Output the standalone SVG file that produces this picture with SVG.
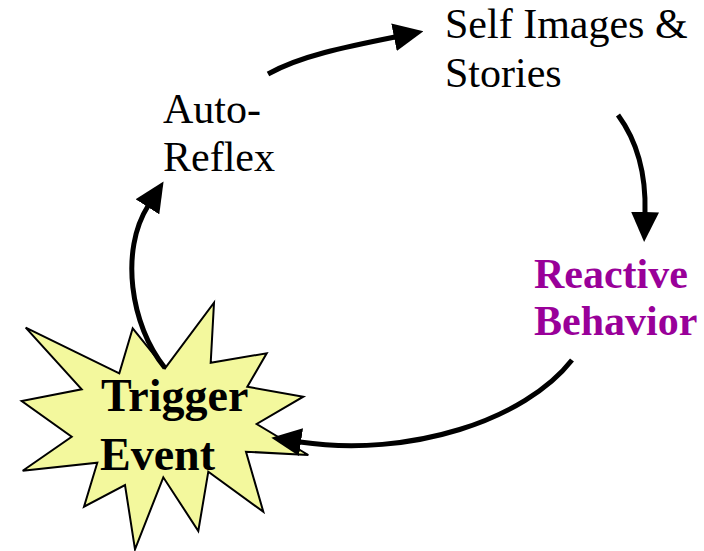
<svg xmlns="http://www.w3.org/2000/svg" width="704" height="551" viewBox="0 0 704 551">
  <defs>
    <marker id="arrow" viewBox="0 0 30 28" refX="1" refY="14" markerWidth="30" markerHeight="28" markerUnits="userSpaceOnUse" orient="auto">
      <path d="M0,0 L30,14 L0,28 Z" fill="#000"/>
    </marker>
  </defs>
  <rect width="704" height="551" fill="#fff"/>

  <g id="trigger-event">
    <polygon fill="#F3F89D" stroke="#000" stroke-width="2" points="25.7,327.7 119.3,373.3 132.7,328.3 165,368.3 214,302.7 210.7,362.7 266.7,353.3 247.3,386.7 303.3,396.7 256.7,424 308.3,455 246,451.7 263.3,511.7 208.3,471.7 198.3,531 163.3,477.3 135,549.3 125,485 84,506.7 97.3,462.7 22.7,470.7 71.7,436.7 21.7,401 81.7,389.3"/>
    <text font-family="Times New Roman, Liberation Serif, serif" font-weight="bold" font-size="46" x="101" y="411">Trigger</text>
    <text font-family="Times New Roman, Liberation Serif, serif" font-weight="bold" font-size="46" x="100" y="470">Event</text>
  </g>

  <g id="auto-reflex">
    <text font-family="Times New Roman, Liberation Serif, serif" font-size="42" x="163" y="123">Auto-</text>
    <text font-family="Times New Roman, Liberation Serif, serif" font-size="42" x="163" y="171">Reflex</text>
  </g>

  <g id="self-images">
    <text font-family="Times New Roman, Liberation Serif, serif" font-size="42" x="445" y="38">Self Images &amp;</text>
    <text font-family="Times New Roman, Liberation Serif, serif" font-size="42" x="445" y="87">Stories</text>
  </g>

  <g id="reactive-behavior">
    <text font-family="Times New Roman, Liberation Serif, serif" font-weight="bold" font-size="42" fill="#990099" x="534" y="288">Reactive</text>
    <text font-family="Times New Roman, Liberation Serif, serif" font-weight="bold" font-size="42" fill="#990099" x="534" y="335">Behavior</text>
  </g>

  <g id="connectors" fill="none" stroke="#000" stroke-width="5">
    <path marker-end="url(#arrow)" d="M165,368 C130,325 120,250 148,206"/>
    <path marker-end="url(#arrow)" d="M268,74 C300,56 345,47 395,37"/>
    <path marker-end="url(#arrow)" d="M618,115 C640,145 646,180 645,213"/>
    <path marker-end="url(#arrow)" d="M572,360 C525,420 410,458 300,442"/>
  </g>
</svg>
